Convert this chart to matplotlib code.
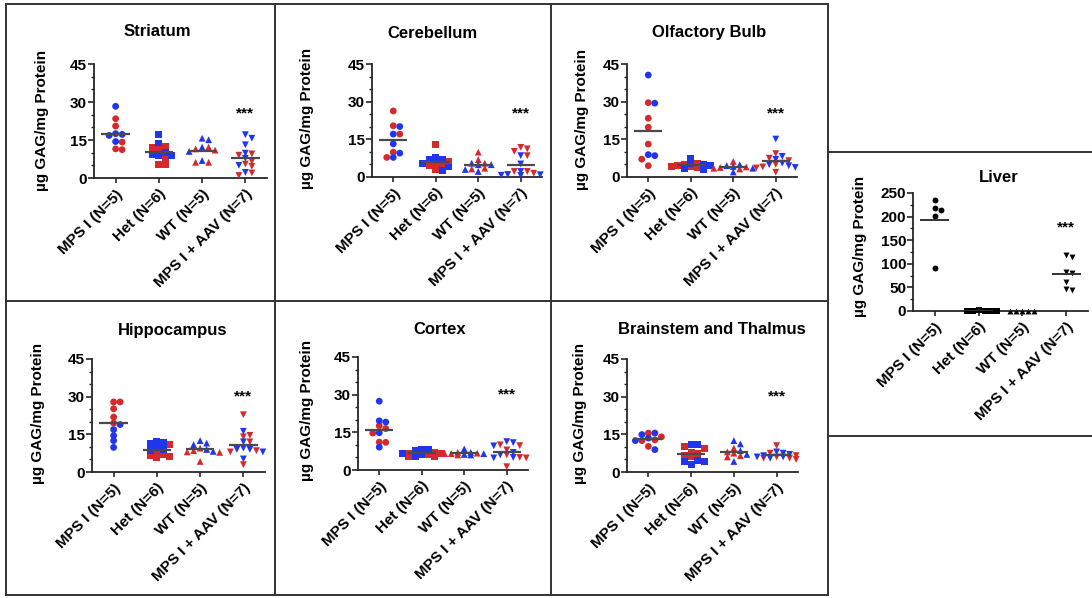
import matplotlib
matplotlib.use("Agg")
import matplotlib.pyplot as plt
from matplotlib.lines import Line2D
from matplotlib.ticker import MultipleLocator
import numpy as np

plt.rcParams["font.family"] = ["Liberation Sans", "DejaVu Sans"]
plt.rcParams["font.weight"] = "bold"

W, H = 1092, 598

groups = ["MPS I (N=5)", "Het (N=6)", "WT (N=5)", "MPS I + AAV (N=7)"]
markers = ["o", "s", "^", "v"]
RED = "#d42a2c"
BLUE = "#1f35ee"

# values (ug GAG / mg protein), one list per group
striatum_red = [[23.4, 20.5, 14.2, 11.2, 11.5], [12.6, 12.0, 11.1, 5.2, 5.2, 7.5],
                [12.2, 11.5, 11.0, 6.2, 6.2], [9.5, 9.0, 6.6, 5.5, 4.6, 2.0, 1.0]]
striatum_blue = [[28.3, 17.5, 16.8, 14.4, 17.2], [17.1, 13.8, 8.9, 8.9, 9.3, 10.0],
                 [15.1, 15.7, 12.2, 6.9, 10.5], [17.1, 15.7, 13.1, 9.8, 7.8, 2.2, 5.0]]

cerebellum_red = [[26.3, 20.4, 17.1, 9.9, 7.8], [12.8, 6.2, 5.6, 4.5, 2.9, 5.0],
                  [9.9, 6.9, 3.5, 3.2, 5.5], [11.8, 11.2, 10.2, 8.5, 2.2, 2.2, 1.5]]
cerebellum_blue = [[20.1, 17.1, 13.2, 9.5, 7.8], [7.1, 7.1, 7.8, 5.5, 2.5, 4.0],
                   [4.9, 4.9, 2.2, 5.5, 3.0], [8.5, 5.2, 1.0, 0.9, 0.7, 2.2, 0.6]]

olfactory_red = [[29.6, 23.4, 19.8, 13.1, 7.1, 4.5], [5.5, 4.5, 4.0, 4.2, 3.8, 5.0],
                 [6.2, 3.5, 3.2, 3.8, 4.0], [9.3, 7.5, 6.5, 3.6, 1.9, 5.0, 4.0]]
olfactory_blue = [[40.6, 29.4, 8.5, 8.9], [7.5, 5.0, 4.5, 3.5, 3.0, 5.5],
                  [4.9, 2.0, 4.5, 4.2, 3.5], [15.1, 8.2, 7.0, 4.9, 4.5, 5.5, 3.8]]

hippocampus_red = [[27.9, 27.9, 25.2, 21.9, 19.5], [11.0, 8.0, 7.0, 6.5, 5.8, 6.2],
                   [7.8, 9.5, 8.5, 4.2, 8.0], [22.8, 14.6, 14.0, 12.0, 8.0, 8.5, 2.9]]
hippocampus_blue = [[18.9, 16.9, 14.5, 12.5, 9.8], [12.0, 11.8, 11.2, 10.0, 9.0, 8.5],
                    [12.5, 10.9, 11.5, 8.2, 9.0], [16.2, 12.0, 9.0, 8.0, 5.2, 9.5, 9.0]]

cortex_red = [[17.6, 16.5, 14.7, 11.1, 11.0], [7.0, 6.5, 6.0, 5.5, 5.5, 6.5],
              [6.7, 7.0, 6.5, 6.0, 6.5], [10.0, 9.7, 8.0, 6.0, 5.0, 4.8, 1.3]]
cortex_blue = [[27.4, 19.1, 19.6, 14.8, 9.1], [8.4, 8.4, 8.0, 6.5, 6.0, 5.5],
               [8.4, 7.0, 6.5, 6.0, 6.2], [11.3, 10.9, 9.6, 6.0, 4.8, 5.0, 7.0]]

brainstem_red = [[15.5, 14.0, 12.8, 12.5, 10.2], [10.2, 9.5, 8.0, 7.5, 6.5, 6.0],
                 [9.5, 8.0, 7.5, 6.5, 6.0], [10.5, 7.5, 6.5, 6.0, 5.5, 5.0, 5.5]]
brainstem_blue = [[15.5, 14.9, 13.5, 12.5, 8.9], [10.9, 10.9, 4.2, 4.2, 4.5, 2.9],
                  [12.5, 11.2, 8.5, 7.0, 4.2], [8.0, 7.5, 7.0, 6.5, 6.0, 5.5, 6.0]]

liver = [[236, 218, 214, 202, 92], [1.0, 0.5, 0.8, 0.3, 0.6, 1.2],
         [0.4, 0.2, 0.5, 0.3, 0.6], [118.6, 113.6, 83, 79.5, 62, 47.6, 45.5]]

star_top = 25.4
star_bottom = 30.0
star_liver = 177


def swarm(vals, dx, dy, nmax=3):
    # beeswarm limited to +-nmax slots; overlap allowed when it is full
    order = np.argsort(vals)[::-1]
    offs = np.zeros(len(vals))
    placed = []
    slots = [0]
    for k in range(1, nmax + 1):
        slots += [k, -k]
    for idx in order:
        v = vals[idx]
        best, best_d = 0, -1
        for s in slots:
            x = s * dx
            d = min([((x - px) / dx) ** 2 + ((v - pv) / dy) ** 2 for px, pv in placed] or [9])
            if d >= 1.0:
                best = x
                break
            if d > best_d:
                best, best_d = x, d
        placed.append((best, v))
        offs[idx] = best
    return offs


def fbox(left, top, right, bottom):
    return [left / W, 1 - bottom / H, (right - left) / W, (bottom - top) / H]


fig = plt.figure(figsize=(W / 100, H / 100), dpi=100)

AX_COL = "#262626"


def style_axes(ax, ymax, major, minor):
    ax.set_xlim(-0.5, 3.5)
    ax.set_ylim(0, ymax)
    for s in ["top", "right"]:
        ax.spines[s].set_visible(False)
    for s in ["left", "bottom"]:
        ax.spines[s].set_linewidth(1.3)
        ax.spines[s].set_color(AX_COL)
    ax.yaxis.set_major_locator(MultipleLocator(major))
    ax.yaxis.set_minor_locator(MultipleLocator(minor))
    ax.tick_params(axis="y", which="major", length=4, width=1.2, pad=1,
                   labelsize=11, color=AX_COL)
    ax.tick_params(axis="y", which="minor", length=2.5, width=1.0, color=AX_COL)
    ax.tick_params(axis="x", length=3.5, width=1.2, pad=3, color=AX_COL)
    ax.set_xticks(range(4))
    ax.set_xticklabels(groups, rotation=45, ha="right", rotation_mode="anchor",
                       fontsize=11, fontweight="bold")
    for t in ax.get_yticklabels():
        t.set_fontweight("bold")
    ax.patch.set_alpha(0)


def brain_panel(title, red, blue, star_y, box, title_xy, ylab_xy):
    ax = fig.add_axes(fbox(*box))
    style_axes(ax, 45, 15, 5)
    px_per_unit = (box[2] - box[0]) / 4.0
    dx = 6.5 / px_per_unit
    dy = 5.0 * 45 / (box[3] - box[1])
    for i in range(4):
        vals = np.array(red[i] + blue[i])
        cols = [RED] * len(red[i]) + [BLUE] * len(blue[i])
        offs = swarm(vals, dx, dy)
        ax.scatter(i + offs, vals, c=cols, marker=markers[i], s=24,
                   linewidths=0, clip_on=False, zorder=3)
        ax.hlines(vals.mean(), i - 0.33, i + 0.33, color="#4a4a4a", lw=1.6, zorder=4)
    ax.text(3, star_y, "***", ha="center", va="center", fontsize=11, fontweight="bold")
    fig.text(title_xy[0] / W, 1 - title_xy[1] / H, title, ha="center", va="center",
             fontsize=12, fontweight="bold")
    fig.text(ylab_xy[0] / W, 1 - ylab_xy[1] / H, "\u00b5g GAG/mg Protein", rotation=90,
             ha="center", va="center", fontsize=11, fontweight="bold")
    return ax


brain_panel("Striatum", striatum_red, striatum_blue, star_top,
            (94, 64, 267, 178), (157, 32), (42, 120))
brain_panel("Cerebellum", cerebellum_red, cerebellum_blue, star_top,
            (372, 64, 542, 177), (432, 33), (307, 118))
brain_panel("Olfactory Bulb", olfactory_red, olfactory_blue, star_top,
            (627, 64, 797, 177), (709, 32), (582, 119))
brain_panel("Hippocampus", hippocampus_red, hippocampus_blue, star_bottom,
            (92, 359, 265, 472), (173, 330), (38, 413))
brain_panel("Cortex", cortex_red, cortex_blue, star_bottom,
            (358, 357, 528, 470), (440, 330), (307, 410))
brain_panel("Brainstem and Thalmus", brainstem_red, brainstem_blue, star_bottom,
            (627, 359, 798, 472), (712, 330), (580, 413))

# liver panel, all black markers
box = (913, 193, 1088, 311)
ax = fig.add_axes(fbox(*box))
style_axes(ax, 250, 50, 25)
dx = 6.0 / ((box[2] - box[0]) / 4.0)
dy = 6.0 * 250 / (box[3] - box[1])
for i in range(4):
    vals = np.array(liver[i], dtype=float)
    offs = swarm(vals, dx, dy)
    ax.scatter(i + offs, vals, c="black", marker=markers[i], s=18,
               linewidths=0, clip_on=False, zorder=3)
    ax.hlines(vals.mean(), i - 0.33, i + 0.33, color="#333333", lw=1.4, zorder=4)
ax.text(3, star_liver, "***", ha="center", va="center", fontsize=11, fontweight="bold")
fig.text(999 / W, 1 - 177 / H, "Liver", ha="center", va="center",
         fontsize=12, fontweight="bold")
fig.text(860 / W, 1 - 246 / H, "\u00b5g GAG/mg Protein", rotation=90,
         ha="center", va="center", fontsize=11, fontweight="bold")

# panel frames
frame = [
    (6, 4, 828, 4), (6, 595, 828, 595), (6, 4, 6, 595), (828, 4, 828, 595),
    (275, 4, 275, 595), (551, 4, 551, 595), (6, 301, 828, 301),
    (828, 152, 1092, 152), (828, 436, 1092, 436),
]
for x0, y0, x1, y1 in frame:
    fig.add_artist(Line2D([x0 / W, x1 / W], [1 - y0 / H, 1 - y1 / H],
                          transform=fig.transFigure, color="#333333", lw=1.4))

fig.savefig("out.png", dpi=100)
